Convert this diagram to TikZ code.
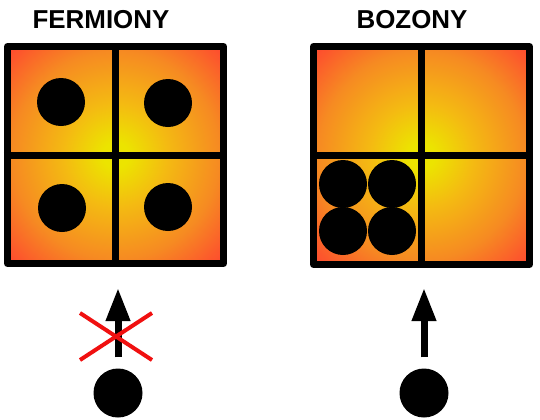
\documentclass[tikz,border=0pt]{standalone}
\usepackage{fontspec}
\setmainfont{Liberation Sans}
\usetikzlibrary{arrows.meta}
\definecolor{cY}{RGB}{236,228,0}
\definecolor{cYO}{RGB}{244,186,18}
\definecolor{cO}{RGB}{246,138,34}
\definecolor{cR}{RGB}{255,66,48}
\definecolor{xred}{RGB}{240,16,16}
\pgfdeclareradialshading{boxglow}{\pgfpoint{0bp}{0bp}}{color(0bp)=(cY); color(3bp)=(cY); color(12bp)=(cYO); color(24bp)=(cO); color(36bp)=(cR); color(50bp)=(cR)}
\tikzset{
  title/.style={font=\fontsize{26}{30}\selectfont\bfseries, anchor=base, inner sep=0},
  cellbox/.style={draw=black, line width=7bp, line join=round, shading=boxglow, minimum width=216bp, minimum height=217bp, inner sep=0},
  divider/.style={draw=black, line width=7bp},
  particle/.style={circle, fill=black, minimum size=48bp, inner sep=0},
  spin/.style={draw=black, line width=7bp, -{Triangle[length=33bp,width=23bp]}, shorten <=11bp},
  forbid/.style={draw=xred, line width=4bp},
}
\begin{document}
\begin{tikzpicture}[x=1bp, y=-1bp]
\useasboundingbox (0,0) rectangle (540,419);
% titles
\node[title] (tf) at (101,28.5) {FERMIONY};
\node[title] (tb) at (412,28.5) {BOZONY};
% fermion box
\node[cellbox] (F) at (115.5,155) {};
\draw[divider] (F.north) -- (F.south);
\draw[divider] (F.west) -- (F.east);
\node[particle] (f1) at (61,102) {};
\node[particle] (f2) at (168,103) {};
\node[particle] (f3) at (62,208) {};
\node[particle] (f4) at (168,207) {};
% boson box
\node[cellbox, minimum height=218bp] (B) at (421.5,155.5) {};
\draw[divider] (B.north) -- (B.south);
\draw[divider] (B.west) -- (B.east);
\node[particle] (b1) at (343,184) {};
\node[particle] (b2) at (392,184) {};
\node[particle] (b3) at (343,231) {};
\node[particle] (b4) at (392,231) {};
% incoming particles
\node[particle, minimum size=49bp] (pf) at (118,393) {};
\node[particle, minimum size=49bp] (pb) at (424,393) {};
\coordinate (tipf) at (118,288);
\coordinate (tipb) at (424,288);
\draw[spin] (pf) -- (tipf);
\draw[spin] (pb) -- (tipb);
% red cross
\coordinate (x1) at (80,313);
\coordinate (x2) at (152,360);
\coordinate (x3) at (80,360);
\coordinate (x4) at (152,313);
\draw[forbid] (x1) -- (x2);
\draw[forbid] (x3) -- (x4);
\end{tikzpicture}
\end{document}
